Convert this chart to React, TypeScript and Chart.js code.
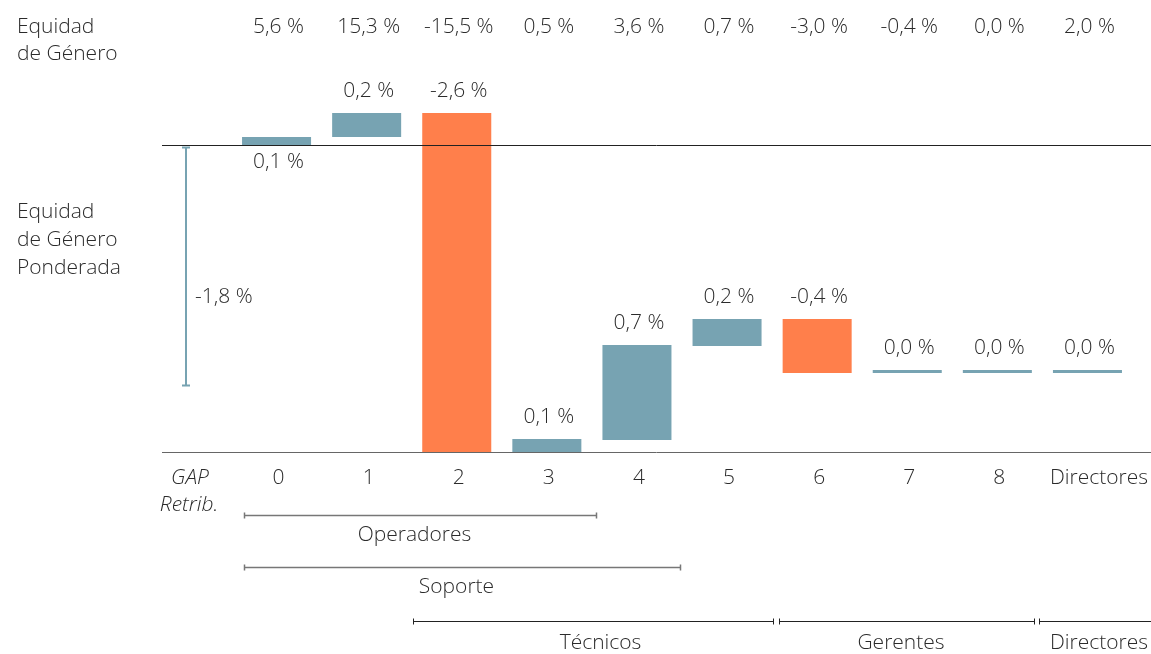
import { useEffect, useRef } from "react";
import { Chart, registerables } from "chart.js";
Chart.register(...registerables);

const categories = ["0", "1", "2", "3", "4", "5", "6", "7", "8", "Directores"];
const equidadGenero = ["5,6 %", "15,3 %", "-15,5 %", "0,5 %", "3,6 %", "0,7 %", "-3,0 %", "-0,4 %", "0,0 %", "2,0 %"];
const barStart = [0, 0.062, 0.246, -2.362, -2.269, -1.546, -1.338, -1.754, -1.754, -1.754];
const barEnd = [0.062, 0.246, -2.362, -2.262, -1.538, -1.338, -1.754, -1.731, -1.731, -1.731];
const barLabels = ["0,1 %", "0,2 %", "-2,6 %", "0,1 %", "0,7 %", "0,2 %", "-0,4 %", "0,0 %", "0,0 %", "0,0 %"];
const totalValue = -1.85;
const totalLabel = "-1,8 %";
const groupNames = ["Operadores", "Soporte", "Técnicos", "Gerentes", "Directores"];
const groupFrom = [-0.36, -0.36, 1.51, 5.58, 8.46];
const groupTo = [3.55, 4.48, 5.51, 8.41, 9.7];

const TEAL = "#77A3B2";
const ORANGE = "#FF7F4B";
const TEXT = "#2b2b2b";
const FONT = "300 21px 'Open Sans', 'Noto Sans', sans-serif";
const IFONT = "italic 300 21px 'Open Sans', 'Noto Sans', sans-serif";

const overlay = {
  id: "overlay",
  afterDatasetsDraw(chart: any) {
    const ctx = chart.ctx as CanvasRenderingContext2D;
    const xs = chart.scales.x;
    const ys = chart.scales.y;
    const W = chart.width;
    ctx.save();
    ctx.textBaseline = "middle";
    ctx.fillStyle = TEXT;
    ctx.font = FONT;

    const y0 = Math.round(ys.getPixelForValue(0)) + 0.5;
    const yb = Math.round(ys.getPixelForValue(Math.min(...barEnd, ...barStart))) + 0.5;
    ctx.lineWidth = 1;
    ctx.strokeStyle = "#222";
    ctx.beginPath();
    ctx.moveTo(162, y0);
    ctx.lineTo(W, y0);
    ctx.stroke();
    ctx.strokeStyle = "#666";
    ctx.beginPath();
    ctx.moveTo(162, yb);
    ctx.lineTo(W, yb);
    ctx.stroke();

    ctx.textAlign = "left";
    ctx.fillText("Equidad", 17, 27);
    ctx.fillText("de Género", 17, 54);
    ctx.fillText("Equidad", 17, 212);
    ctx.fillText("de Género", 17, 240);
    ctx.fillText("Ponderada", 17, 268);

    const yt = ys.getPixelForValue(totalValue);
    ctx.strokeStyle = TEAL;
    ctx.lineWidth = 2;
    ctx.beginPath();
    ctx.moveTo(186, y0 + 2);
    ctx.lineTo(186, yt);
    ctx.moveTo(182, y0 + 2);
    ctx.lineTo(190, y0 + 2);
    ctx.moveTo(182, yt);
    ctx.lineTo(190, yt);
    ctx.stroke();
    ctx.fillText(totalLabel, 195, 297);

    ctx.textAlign = "center";
    for (let i = 0; i < categories.length; i++) {
      const cx = xs.getPixelForValue(i);
      ctx.fillText(equidadGenero[i], cx + 2, 27);
      if (i === categories.length - 1) {
        ctx.textAlign = "right";
        ctx.fillText(categories[i], 1148, 478);
        ctx.textAlign = "center";
      } else {
        ctx.fillText(categories[i], cx + 2, 478);
      }
      const top = ys.getPixelForValue(Math.max(barStart[i], barEnd[i]));
      const bot = ys.getPixelForValue(Math.min(barStart[i], barEnd[i]));
      if (i === 0) ctx.fillText(barLabels[i], cx + 2, bot + 17);
      else ctx.fillText(barLabels[i], cx + 2, top - 22);
    }

    ctx.font = IFONT;
    ctx.fillText("GAP", 190, 478);
    ctx.fillText("Retrib.", 189, 505);
    ctx.font = FONT;

    const lineYs = [515, 567, 621, 621, 621];
    for (let g = 0; g < groupNames.length; g++) {
      const x1 = Math.round(xs.getPixelForValue(groupFrom[g])) + 0.5;
      const x2 = Math.round(xs.getPixelForValue(groupTo[g])) + 0.5;
      const ly = lineYs[g] + 0.5;
      ctx.strokeStyle = g < 2 ? "#777" : "#222";
      ctx.lineWidth = g < 2 ? 1.5 : 1;
      ctx.beginPath();
      ctx.moveTo(x1, ly);
      ctx.lineTo(x2, ly);
      ctx.moveTo(x1, ly - 3);
      ctx.lineTo(x1, ly + 3);
      ctx.moveTo(x2, ly - 3);
      ctx.lineTo(x2, ly + 3);
      ctx.stroke();
      if (g === 4) {
        ctx.textAlign = "right";
        ctx.fillText(groupNames[g], 1148, ly + 22);
        ctx.textAlign = "center";
      } else {
        const lx = (x1 + x2) / 2 + (g === 2 ? 7 : -6);
        ctx.fillText(groupNames[g], lx, ly + (g < 2 ? 20 : 22));
      }
    }
    ctx.restore();
  },
};

export default function App() {
  const ref = useRef<HTMLCanvasElement>(null);
  useEffect(() => {
    const data = categories.map((_, i) => [barStart[i], barEnd[i]]);
    const colors = categories.map((_, i) => (barEnd[i] < barStart[i] ? ORANGE : TEAL));
    const chart = new Chart(ref.current!, {
      type: "bar",
      data: {
        labels: categories,
        datasets: [
          {
            data: data as any,
            backgroundColor: colors,
            borderWidth: 0,
            barPercentage: 1,
            categoryPercentage: 0.766,
          },
        ],
      },
      options: {
        animation: false,
        responsive: false,
        maintainAspectRatio: false,
        layout: { padding: { left: 231.5, right: 18.5, top: 80, bottom: 184 } },
        plugins: { legend: { display: false }, tooltip: { enabled: false } },
        scales: {
          x: { display: false },
          y: { display: false, min: -2.5, max: 0.5 },
        },
      },
      plugins: [overlay],
    });
    return () => chart.destroy();
  }, []);
  return (
    <div style={{ position: "absolute", left: 0, top: 0, width: 1151, height: 654, background: "#fff" }}>
      <canvas ref={ref} width={1151} height={654} />
    </div>
  );
}
